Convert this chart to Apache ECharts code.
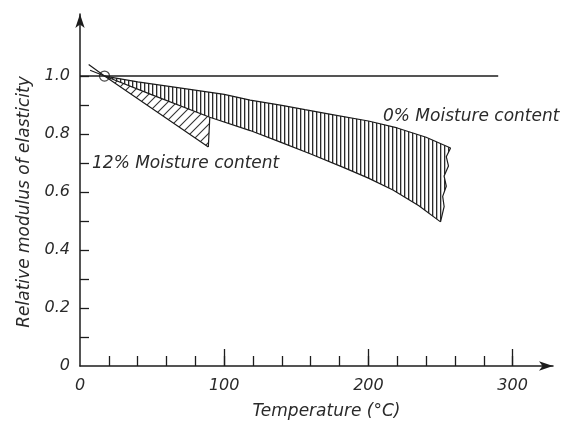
<!DOCTYPE html>
<html>
<head>
<meta charset="utf-8">
<script src="https://cdn.jsdelivr.net/npm/echarts@6/dist/echarts.min.js"></script>
<style>
  html, body { margin: 0; padding: 0; background: #ffffff; }
  #chart { width: 568px; height: 423px; }
</style>
</head>
<body>
<div id="chart"></div>
<script>
// ---------- data ----------
const xLabelValues = [0, 100, 200, 300];
const xMinorTicks = [20, 40, 60, 80, 100, 120, 140, 160, 180, 200, 220, 240, 260, 280, 300];
const xMajorTicks = [100, 200, 300];
const yLabelValues = [0, 0.2, 0.4, 0.6, 0.8, 1.0];
const yTickValues = [0.1, 0.2, 0.3, 0.4, 0.5, 0.6, 0.7, 0.8, 0.9, 1.0];

// reference line at relative modulus 1.0
const baseLine = [[0, 1.0], [290, 1.0]];
// common origin point (circle)
const originPoint = [[17, 1.0]];

// 0% moisture content band
const upper0 = [[17, 1.0], [40, 0.98], [69, 0.959], [100, 0.937], [118, 0.917], [139, 0.90], [156, 0.884], [174, 0.868], [200, 0.845], [220, 0.821], [240, 0.789], [257, 0.752]];
const lower0 = [[7, 1.02], [17, 1.0], [50, 0.935], [90, 0.858], [118, 0.812], [139, 0.772], [160, 0.731], [183, 0.684], [200, 0.648], [217, 0.607], [235, 0.553], [250, 0.497]];
const rightEdge0 = [[257, 0.752], [254, 0.722], [255.5, 0.69], [252.5, 0.655], [254, 0.62], [251.5, 0.585], [252.5, 0.55], [250, 0.497]];

// 12% moisture content band
const upper12 = [[17, 1.0], [50, 0.935], [90, 0.858]];
const lower12 = [[6, 1.04], [17, 1.0], [89, 0.755]];
const rightEdge12 = [[90, 0.858], [89, 0.755]];

const label0 = '0% Moisture content';
const label12 = '12% Moisture content';
const xName = 'Temperature (°C)';
const yName = 'Relative modulus of elasticity';

// ---------- patterns ----------
function makeVerticalPattern() {
  const c = document.createElement('canvas');
  c.width = 4; c.height = 4;
  const ctx = c.getContext('2d');
  ctx.fillStyle = '#ffffff'; ctx.fillRect(0, 0, 4, 4);
  ctx.fillStyle = '#2a2a2a'; ctx.fillRect(0, 0, 1, 4);
  ctx.fillStyle = 'rgba(60,60,60,0.35)'; ctx.fillRect(1, 0, 1, 4);
  return c;
}
function makeDiagonalPattern() {
  const s = 9;
  const c = document.createElement('canvas');
  c.width = s; c.height = s;
  const ctx = c.getContext('2d');
  ctx.fillStyle = '#ffffff'; ctx.fillRect(0, 0, s, s);
  ctx.strokeStyle = '#333333'; ctx.lineWidth = 1.1;
  ctx.beginPath();
  ctx.moveTo(0, s); ctx.lineTo(s, 0);
  ctx.moveTo(-1, 1); ctx.lineTo(1, -1);
  ctx.moveTo(s - 1, s + 1); ctx.lineTo(s + 1, s - 1);
  ctx.stroke();
  return c;
}

function bandPolygon(pts, fill) {
  return {
    type: 'custom',
    coordinateSystem: 'cartesian2d',
    xAxisIndex: 0, yAxisIndex: 0,
    silent: true,
    z: 1,
    data: pts,
    encode: { x: 0, y: 1 },
    renderItem: function (params, api) {
      if (params.dataIndex !== 0) return null;
      const points = pts.map(function (p) { return api.coord(p); });
      return { type: 'polygon', shape: { points: points }, style: { fill: fill, stroke: null } };
    }
  };
}

const poly0 = upper0.concat(rightEdge0.slice(1)).concat(lower0.slice(1, lower0.length - 1).reverse());
const poly12 = upper12.concat(rightEdge12.slice(1)).concat(lower12.slice(1, lower12.length - 1).reverse());

const lineColor = '#1c1c1c';
const textColor = '#2a2a2a';
const font = 'DejaVu Sans';

function edge(data, w) {
  return {
    type: 'line', data: data, showSymbol: false, silent: true, z: 3,
    lineStyle: { color: lineColor, width: w || 1.2 }
  };
}

const gridTop = 14, gridBottom = 57, chartH = 423;
const gridH = chartH - gridTop - gridBottom;

const chart = echarts.init(document.getElementById('chart'), null, { renderer: 'canvas' });
chart.setOption({
  animation: false,
  backgroundColor: '#ffffff',
  grid: { left: 80, right: 15, top: gridTop, bottom: gridBottom, containLabel: false, outerBoundsMode: 'none' },
  xAxis: [{
    type: 'value', min: 0, max: 328, position: 'bottom',
    splitLine: { show: false },
    axisLine: { symbol: ['none', 'arrow'], symbolSize: [7, 14], lineStyle: { color: lineColor, width: 1.5 } },
    axisTick: { inside: true, length: 10, customValues: xMinorTicks, lineStyle: { color: lineColor, width: 1.3 } },
    axisLabel: { customValues: xLabelValues, margin: 12, color: textColor, fontSize: 16, fontStyle: 'italic', fontFamily: font },
    name: xName, nameLocation: 'middle', nameGap: 37,
    nameTextStyle: { color: textColor, fontSize: 17, fontStyle: 'italic', fontFamily: font, padding: [0, 0, 0, 20] }
  }, {
    type: 'value', min: 0, max: 328, position: 'top', offset: -gridH,
    splitLine: { show: false },
    axisLine: { show: false, onZero: false },
    axisTick: { inside: false, length: 17, customValues: xMajorTicks, lineStyle: { color: lineColor, width: 1.3 } },
    axisLabel: { show: false }
  }],
  yAxis: {
    type: 'value', min: 0, max: 1.214,
    splitLine: { show: false },
    axisLine: { symbol: ['none', 'arrow'], symbolSize: [7, 14], lineStyle: { color: lineColor, width: 1.5 } },
    axisTick: { inside: true, length: 9, customValues: yTickValues, lineStyle: { color: lineColor, width: 1.3 } },
    axisLabel: {
      customValues: yLabelValues, margin: 10, color: textColor, fontSize: 16, fontStyle: 'italic', fontFamily: font,
      formatter: function (v) { return v === 0 ? '0' : v.toFixed(1); }
    },
    name: yName, nameLocation: 'middle', nameGap: 47,
    nameTextStyle: { color: textColor, fontSize: 17, fontStyle: 'italic', fontFamily: font, padding: [0, 24, 0, 0] }
  },
  graphic: [
    { type: 'text', left: 383, top: 108, style: { text: label0, fill: textColor, font: 'italic 17px "DejaVu Sans"' } },
    { type: 'text', left: 92, top: 155, style: { text: label12, fill: textColor, font: 'italic 17px "DejaVu Sans"' } }
  ],
  series: [
    bandPolygon(poly0, { image: makeVerticalPattern(), repeat: 'repeat' }),
    bandPolygon(poly12, { image: makeDiagonalPattern(), repeat: 'repeat' }),
    edge(baseLine, 1.5),
    edge(upper0),
    edge(lower0),
    edge(rightEdge0),
    edge(lower12),
    edge(rightEdge12),
    {
      type: 'scatter', data: originPoint, symbol: 'circle', symbolSize: 10, silent: true, z: 4,
      itemStyle: { color: 'rgba(255,255,255,0)', borderColor: lineColor, borderWidth: 1.2 }
    }
  ]
});
</script>
</body>
</html>
